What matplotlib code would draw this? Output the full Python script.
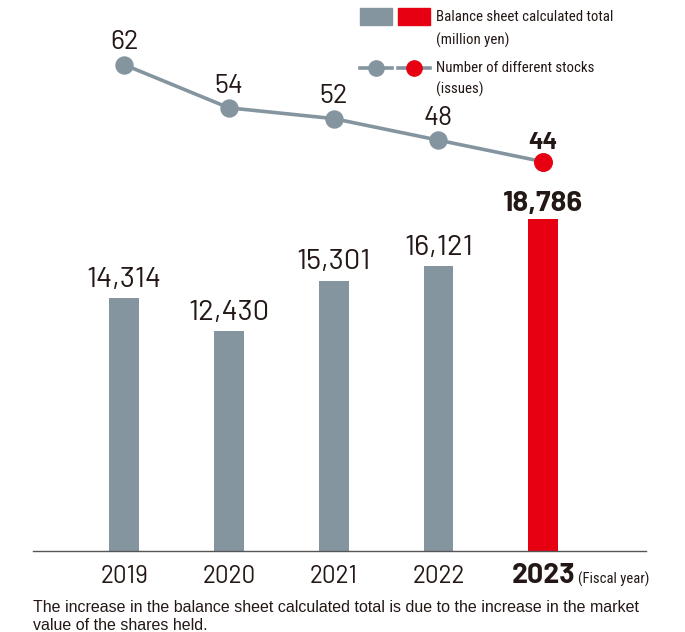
import matplotlib.pyplot as plt
from matplotlib.patches import Rectangle
from matplotlib.lines import Line2D
from matplotlib import transforms

years = ['2019', '2020', '2021', '2022', '2023']
balance = [14314, 12430, 15301, 16121, 18786]   # million yen
stocks = [62, 54, 52, 48, 44]                   # issues

gray = '#8595a0'
red = '#e60012'
ink = '#231815'
num_font = ['Barlow', 'DejaVu Sans']
txt_font = ['Roboto Condensed', 'DejaVu Sans']

plt.rcParams['font.family'] = num_font

W, H = 685, 632
fig = plt.figure(figsize=(W / 100, H / 100), dpi=100)

def fx(px):
    return px / W

def fy(py):
    return 1 - py / H

def lift(a, pts):
    return a.transData + transforms.ScaledTranslation(0, pts / 72, fig.dpi_scale_trans)

# main axes: baseline at y=551px, x from 33 to 646px
ax = fig.add_axes([fx(33), fy(551), fx(646) - fx(33), fy(0) - fy(551)])
ax2 = ax.twinx()

xs = list(range(len(years)))
colors = [gray] * 4 + [red]
ax.bar(xs, balance, width=0.286, color=colors, zorder=2)
ax.set_xlim(-0.869, 4.98)
ax.set_ylim(0, 31174)

for i, v in enumerate(balance):
    if i == len(balance) - 1:
        ax.text(i, v, f'{v:,}', ha='center', va='baseline', fontsize=21, fontweight=700,
                color=ink, transform=lift(ax, 6))
    else:
        ax.text(i, v, f'{v:,}', ha='center', va='baseline', fontsize=21, fontweight=400,
                color=ink, transform=lift(ax, 8))

ax2.plot(xs, stocks, color=gray, lw=2.6, zorder=3)
ax2.scatter(xs[:-1], stocks[:-1], s=150, color=gray, zorder=4)
ax2.scatter(xs[-1:], stocks[-1:], s=160, color=red, zorder=5)
ax2.set_ylim(-28.2, 74.0)
for i, v in enumerate(stocks):
    if i == len(stocks) - 1:
        ax2.text(i, v, str(v), ha='center', va='baseline', fontsize=17.5, fontweight=700,
                 color=ink, transform=lift(ax2, 9))
    else:
        ax2.text(i, v, str(v), ha='center', va='baseline', fontsize=19.5, fontweight=400,
                 color=ink, transform=lift(ax2, 11))

for a in (ax, ax2):
    for s in ('top', 'right', 'left'):
        a.spines[s].set_visible(False)
    a.set_yticks([])
ax2.spines['bottom'].set_visible(False)
ax.spines['bottom'].set_color('#555555')
ax.spines['bottom'].set_linewidth(1.0)

ax.set_xticks(xs)
ax.set_xticklabels(years, fontsize=17.5, color=ink, fontweight=400)
ax.tick_params(axis='x', length=0, pad=23)
for lbl in ax.get_xticklabels():
    lbl.set_verticalalignment('baseline')
lbl = ax.get_xticklabels()[-1]
lbl.set_fontweight(700)
lbl.set_fontsize(20.5)

fig.text(fx(578), fy(579), '(Fiscal year)', fontsize=10.5, color=ink, va='center', ha='left', family=txt_font)

# legend
fig.add_artist(Rectangle((fx(360), fy(25)), fx(32), fy(8) - fy(25), color=gray, transform=fig.transFigure))
fig.add_artist(Rectangle((fx(398), fy(25)), fx(32), fy(8) - fy(25), color=red, transform=fig.transFigure))
fig.text(fx(436), fy(17), 'Balance sheet calculated total', fontsize=10.7, color=ink, va='center', family=txt_font)
fig.text(fx(436), fy(40), '(million yen)', fontsize=10.7, color=ink, va='center', family=txt_font)
for x0, c in ((360, gray), (398, red)):
    fig.add_artist(Line2D([fx(x0), fx(x0 + 32)], [fy(68), fy(68)], color=gray, lw=2.6, transform=fig.transFigure))
    fig.add_artist(Line2D([fx(x0 + 16)], [fy(68)], marker='o', markersize=11, color=c, transform=fig.transFigure))
fig.text(fx(436), fy(68), 'Number of different stocks', fontsize=10.7, color=ink, va='center', family=txt_font)
fig.text(fx(436), fy(89), '(issues)', fontsize=10.7, color=ink, va='center', family=txt_font)

fig.text(fx(33), fy(608), 'The increase in the balance sheet calculated total is due to the increase in the market',
         fontsize=11.5, color=ink, va='center', family='Liberation Sans')
fig.text(fx(33), fy(625), 'value of the shares held.', fontsize=11.5, color=ink, va='center', family='Liberation Sans')

fig.savefig('out.png', dpi=100)
